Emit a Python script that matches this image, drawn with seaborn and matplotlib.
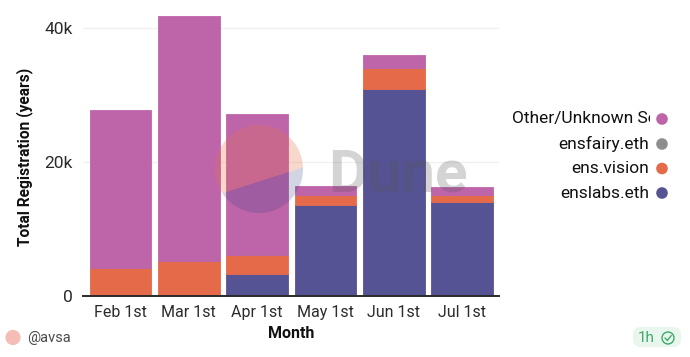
import matplotlib
matplotlib.use("Agg")
import matplotlib.pyplot as plt
import seaborn as sns
import pandas as pd
from matplotlib.patches import Circle, FancyBboxPatch, Rectangle, Polygon
from matplotlib.lines import Line2D

months = ["Feb 1st", "Mar 1st", "Apr 1st", "May 1st", "Jun 1st", "Jul 1st"]
enslabs = [0, 0, 3150, 13500, 30900, 14050]
ensvision = [4100, 5100, 2900, 1450, 3100, 1000]
ensfairy = [0, 0, 0, 0, 0, 0]
other = [23560, 36700, 21050, 1400, 1950, 1150]
series_names = ["Other/Unknown Source", "ensfairy.eth", "ens.vision", "enslabs.eth"]
series_values = [other, ensfairy, ensvision, enslabs]
colors = ["#BE65AA", "#8E8E8E", "#E56A4A", "#565394"]
yticks = [0, 20000, 40000]
yticklabels = ["0", "20k", "40k"]

W, H = 690, 357
sns.set_theme(style="white")
plt.rcParams["font.family"] = ["Roboto", "DejaVu Sans"]
fig = plt.figure(figsize=(W / 100, H / 100), dpi=100, facecolor="white")
ax = fig.add_axes([83 / W, 1 - 295.5 / H, 416 / W, 295.5 / H])

df = pd.DataFrame({"month": months, "enslabs": enslabs, "vision": ensvision,
                   "fairy": ensfairy, "other": other})
bottom = [0] * len(months)
for col, color in (("enslabs", colors[3]), ("vision", colors[2]),
                   ("fairy", colors[1]), ("other", colors[0])):
    sns.barplot(data=df, x="month", y=col, bottom=bottom, color=color, width=0.9,
                saturation=1, ax=ax, linewidth=0.6, edgecolor=color, zorder=3)
    bottom = [b + v for b, v in zip(bottom, df[col])]

ax.set_xlim(-0.549, 5.54)
ax.set_ylim(0, 295.5 / 6.69 * 1000)
ax.set_yticks(yticks)
ax.set_yticklabels(yticklabels, fontsize=12.5, color="#2b2b2b")
ax.tick_params(axis="x", length=0, labelsize=11.5, labelcolor="#2b2b2b", pad=7)
ax.tick_params(axis="y", length=0, pad=7.5)
ax.grid(axis="y", color="#f0f0f0", linewidth=1)
ax.set_axisbelow(True)
for s in ("top", "right", "left"):
    ax.spines[s].set_visible(False)
ax.spines["bottom"].set_color("#2a2a2a")
ax.spines["bottom"].set_linewidth(1.4)
ax.spines["bottom"].set_zorder(5)
ax.set_xlabel("Month", fontsize=11.5, fontweight="bold", color="#111111")
ax.set_ylabel("")
ax.xaxis.set_label_coords((291 - 83) / 416, -(333 - 295.5) / 295.5, transform=ax.transAxes)
ax.xaxis.label.set_verticalalignment("center")

# overlay in pixel coordinates
ov = fig.add_axes([0, 0, 1, 1], facecolor="none")
ov.set_xlim(0, W)
ov.set_ylim(H, 0)
ov.axis("off")

ov.text(25, 157, "Total Registration (years)", rotation=90, ha="center", va="center",
        fontsize=11.2, fontweight="bold", color="#111111")

# Dune watermark: upper tint over the whole disc, lower segment cut off by a chord
centre, radius = (259, 169), 44
upper_clip = Polygon([(200, 110), (320, 110), (320, 162), (223, 193), (200, 200)], closed=True,
                     transform=ov.transData)
lower_clip = Polygon([(200, 200), (223, 193), (320, 162), (320, 230), (200, 230)], closed=True,
                     transform=ov.transData)
top = Circle(centre, radius, facecolor="#E8734A", alpha=0.28, edgecolor="none")
ov.add_patch(top)
top.set_clip_path(upper_clip)
low = Circle(centre, radius, facecolor="#34407F", alpha=0.22, edgecolor="none")
ov.add_patch(low)
low.set_clip_path(lower_clip)
ov.text(328, 191, "Dune", fontsize=43.5, fontweight="bold", color="#555555", alpha=0.25,
        ha="left", va="baseline")

# legend
legend_y = [119, 144, 168.5, 193]
clip = Rectangle((500, 100), 150, 110, transform=ov.transData)
for name, color, y in zip(series_names, colors, legend_y):
    ha, x = ("left", 512) if name.startswith("Other") else ("right", 649)
    t = ov.text(x, y, name, ha=ha, va="center", fontsize=12.5, color="#111111")
    t.set_clip_path(clip)
    t.set_clip_on(True)
    ov.add_patch(Circle((662, y), 5.8, facecolor=color, edgecolor="none"))

# footer
ov.add_patch(Circle((13, 337.5), 7.6, facecolor="#F5BDB5", edgecolor="none"))
ov.text(27, 338, "@avsa", fontsize=10.5, color="#4a4a4a", va="center", ha="left")
ov.add_patch(FancyBboxPatch((637, 331), 40, 12, boxstyle="round,pad=0,rounding_size=4",
                            facecolor="#E8F6EE", edgecolor="#E8F6EE", linewidth=6))
ov.text(638, 338, "1h", fontsize=11, color="#3DAA6A", va="center", ha="left")
ov.add_patch(Circle((668, 338), 6, facecolor="none", edgecolor="#3DAA6A", linewidth=1))
ov.add_line(Line2D([665, 667.3, 671.2], [338, 340.5, 335.6], color="#3DAA6A", linewidth=1))

fig.savefig("out.png", dpi=100, facecolor="white")
